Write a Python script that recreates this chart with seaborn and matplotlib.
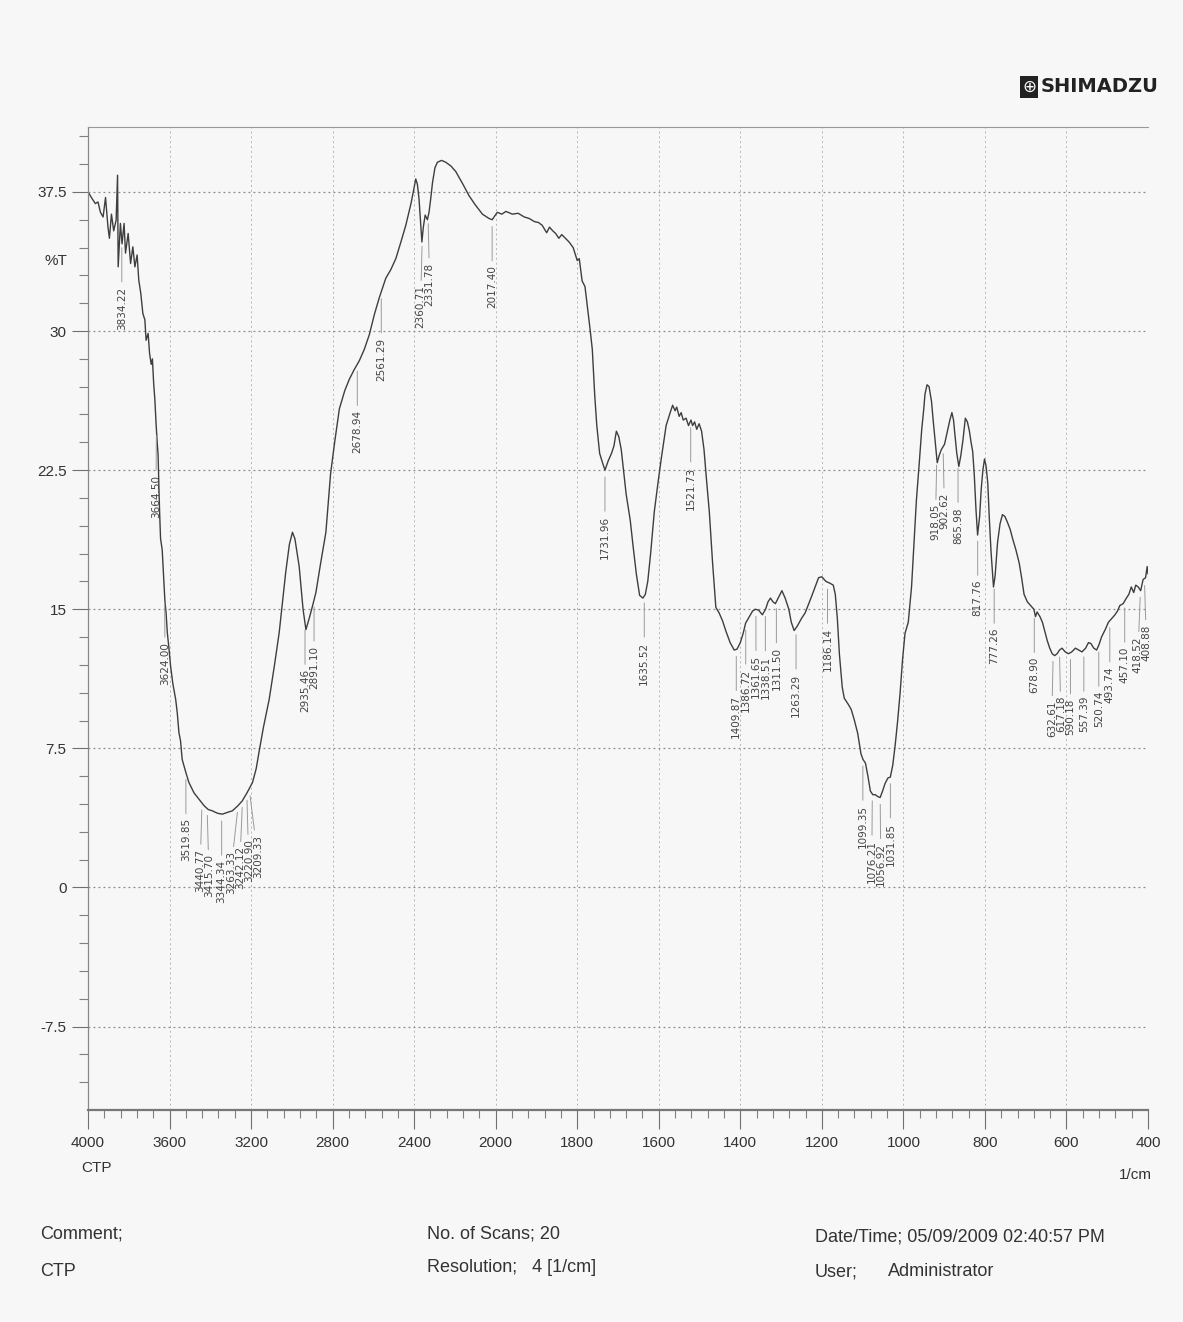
import numpy as np
import pandas as pd
import matplotlib
matplotlib.use('Agg')
import matplotlib.pyplot as plt
import matplotlib.transforms as mtransforms
import seaborn as sns
from matplotlib import font_manager
from matplotlib.ticker import FixedLocator, FixedFormatter

# IR spectrum (CTP)
wavenumber = [
    4000, 3980, 3964, 3951, 3939, 3926, 3914, 3902, 3895, 3885, 3874, 3862, 3855, 3852,
    3841, 3833, 3823, 3816, 3803, 3791, 3780, 3770, 3759, 3751, 3741, 3731, 3721, 3715,
    3705, 3698, 3690, 3684, 3678, 3672, 3666, 3660, 3656, 3652, 3648, 3644, 3636, 3630,
    3623, 3617, 3611, 3603, 3595, 3584, 3570, 3562, 3554, 3546, 3538, 3520, 3505, 3480,
    3456, 3430, 3410, 3390, 3365, 3341, 3315, 3292, 3265, 3243, 3220, 3193, 3175, 3161,
    3140, 3111, 3085, 3062, 3045, 3030, 3012, 2997, 2985, 2964, 2945, 2931, 2915, 2898,
    2882, 2860, 2833, 2810, 2790, 2767, 2740, 2718, 2695, 2669, 2645, 2620, 2595, 2571,
    2539, 2515, 2490, 2465, 2441, 2415, 2392, 2384, 2376, 2368, 2362, 2355, 2346, 2335,
    2327, 2318, 2310, 2298, 2286, 2265, 2245, 2220, 2196, 2160, 2131, 2100, 2065, 2033,
    2017, 2005, 1996, 1985, 1975, 1959, 1945, 1930, 1918, 1905, 1895, 1886, 1875, 1868,
    1860, 1853, 1845, 1838, 1829, 1820, 1810, 1800, 1795, 1788, 1781, 1775, 1768, 1763,
    1757, 1752, 1745, 1738, 1732, 1724, 1716, 1710, 1704, 1698, 1692, 1680, 1670, 1663,
    1655, 1647, 1639, 1633, 1627, 1620, 1611, 1602, 1594, 1582, 1572, 1566, 1560, 1556,
    1550, 1545, 1540, 1533, 1527, 1521, 1517, 1512, 1507, 1501, 1495, 1489, 1483, 1476,
    1468, 1460, 1452, 1444, 1435, 1425, 1415, 1408, 1400, 1393, 1387, 1378, 1370, 1363,
    1355, 1346, 1338, 1332, 1326, 1320, 1314, 1305, 1298, 1290, 1281, 1275, 1268, 1260,
    1250, 1241, 1225, 1208, 1200, 1190, 1180, 1172, 1167, 1162, 1157, 1150, 1145, 1136,
    1128, 1120, 1112, 1104, 1099, 1093, 1087, 1081, 1075, 1069, 1063, 1057, 1051, 1045,
    1038, 1032, 1026, 1020, 1014, 1008, 1002, 996, 988, 980, 974, 968, 961, 955,
    950, 947, 942, 937, 931, 927, 923, 917, 912, 907, 899, 891, 886, 881,
    877, 874, 869, 864, 859, 854, 848, 843, 838, 834, 830, 826, 822, 818,
    813, 809, 805, 801, 797, 793, 789, 785, 779, 775, 769, 763, 757, 751,
    745, 738, 732, 724, 716, 710, 704, 696, 688, 680, 676, 672, 665, 659,
    653, 647, 641, 635, 629, 623, 617, 611, 603, 595, 587, 578, 570, 562,
    553, 546, 540, 533, 526, 520, 514, 505, 497, 489, 481, 475, 469, 461,
    453, 447, 441, 435, 430, 424, 418, 412, 406, 402, 400,
]
transmittance = [
    37.5, 37.14, 36.87, 36.96, 36.4, 36.15, 37.2, 35.6, 35.0, 36.3, 35.4, 35.98, 38.4, 33.46,
    35.8, 34.7, 35.8, 34.2, 35.26, 33.64, 34.54, 33.46, 34.1, 32.75, 32.03, 30.95, 30.6, 29.5,
    29.87, 28.8, 28.2, 28.5, 27.2, 26.3, 25.0, 23.9, 23.3, 21.5, 20.0, 18.8, 18.2, 17.0,
    15.5, 14.8, 13.75, 12.9, 11.95, 11.0, 10.15, 9.4, 8.35, 7.9, 6.9, 6.2, 5.66, 5.1,
    4.76, 4.4, 4.2, 4.13, 4.0, 3.95, 4.05, 4.13, 4.4, 4.67, 5.1, 5.66, 6.4, 7.3,
    8.6, 10.15, 12.0, 13.75, 15.5, 17.0, 18.5, 19.15, 18.8, 17.3, 15.0, 13.9, 14.5, 15.2,
    15.9, 17.4, 19.15, 22.3, 24.0, 25.8, 26.8, 27.4, 27.9, 28.4, 29.0, 29.8, 30.9, 31.8,
    32.85, 33.3, 33.9, 34.8, 35.7, 36.9, 38.2, 37.9, 37.1, 35.8, 34.8, 35.6, 36.25, 36.0,
    36.4, 37.2, 38.0, 38.8, 39.1, 39.2, 39.1, 38.9, 38.6, 37.9, 37.3, 36.8, 36.3, 36.07,
    36.0, 36.2, 36.4, 36.3, 36.45, 36.3, 36.35, 36.15, 36.07, 35.9, 35.85, 35.7, 35.3, 35.6,
    35.4, 35.26, 35.0, 35.2, 35.0, 34.8, 34.5, 33.8, 33.9, 32.7, 32.4, 31.3, 30.0, 29.0,
    26.5, 24.9, 23.4, 22.9, 22.5, 23.0, 23.4, 23.8, 24.6, 24.3, 23.6, 21.2, 19.8, 18.4,
    16.9, 15.75, 15.6, 15.8, 16.5, 18.0, 20.25, 21.8, 23.1, 24.9, 25.6, 26.0, 25.7, 25.9,
    25.4, 25.6, 25.2, 25.3, 24.9, 25.2, 24.9, 25.1, 24.7, 25.0, 24.6, 23.6, 22.0, 20.25,
    17.5, 15.1, 14.8, 14.4, 13.8, 13.2, 12.8, 12.85, 13.2, 13.7, 14.25, 14.6, 14.9, 15.0,
    14.95, 14.7, 15.0, 15.4, 15.6, 15.4, 15.3, 15.7, 16.0, 15.6, 15.0, 14.3, 13.85, 14.1,
    14.5, 14.8, 15.7, 16.7, 16.75, 16.5, 16.4, 16.3, 15.8, 14.5, 12.6, 10.8, 10.2, 9.9,
    9.6, 9.0, 8.3, 7.2, 6.9, 6.7, 6.0, 5.2, 5.0, 5.0, 4.9, 4.85, 5.2, 5.6,
    5.9, 5.95, 6.6, 7.7, 9.0, 10.5, 12.3, 13.7, 14.3, 16.2, 18.5, 20.9, 22.9, 24.7,
    25.8, 26.6, 27.1, 27.0, 26.2, 25.2, 24.3, 22.9, 23.3, 23.6, 23.9, 24.7, 25.2, 25.6,
    25.2, 24.5, 23.4, 22.7, 23.3, 24.1, 25.3, 25.1, 24.6, 24.0, 23.5, 22.2, 20.4, 19.0,
    20.0, 21.5, 22.5, 23.1, 22.7, 21.8, 19.8, 18.1, 16.2, 16.8, 18.6, 19.6, 20.1, 20.0,
    19.7, 19.3, 18.8, 18.2, 17.5, 16.7, 15.8, 15.4, 15.2, 15.0, 14.6, 14.85, 14.6, 14.3,
    13.8, 13.3, 12.9, 12.6, 12.5, 12.6, 12.8, 12.9, 12.7, 12.6, 12.7, 12.9, 12.8, 12.7,
    12.9, 13.2, 13.15, 12.9, 12.8, 13.1, 13.5, 13.9, 14.3, 14.5, 14.7, 14.9, 15.2, 15.3,
    15.6, 15.8, 16.2, 15.9, 16.3, 16.2, 16.0, 16.6, 16.7, 17.3, 16.9,
]

peak_labels = [
    '3834.22', '3664.50', '3624.00', '3519.85', '3440.77', '3415.70', '3344.34',
    '3263.33', '3242.12', '3220.90', '3209.33', '2935.46', '2891.10', '2678.94',
    '2561.29', '2360.71', '2331.78', '2017.40', '1731.96', '1635.52', '1521.73',
    '1409.87', '1386.72', '1361.65', '1338.51', '1311.50', '1263.29', '1186.14',
    '1099.35', '1076.21', '1056.92', '1031.85', '918.05', '902.62', '865.98',
    '817.76', '777.26', '678.90', '632.61', '617.18', '590.18', '557.39',
    '520.74', '493.74', '457.10', '418.52', '408.88',
]

x_ticks = [4000, 3600, 3200, 2800, 2400, 2000, 1800, 1600, 1400, 1200, 1000, 800, 600, 400]
y_ticks = [-7.5, 0, 7.5, 15, 22.5, 30, 37.5]
y_tick_labels = ['-7.5', '0', '7.5', '15', '22.5', '30', '37.5']

sns.set_theme(style='white')
names = {f.name for f in font_manager.fontManager.ttflist}
narrow = next(n for n in ['Liberation Sans Narrow', 'Liberation Sans', 'DejaVu Sans'] if n in names)
plt.rcParams['font.family'] = [narrow, 'DejaVu Sans']

bg = '#f7f7f8'
ink = '#3e3e3e'
W, H = 1183, 1322

fig = plt.figure(figsize=(W / 100, H / 100), dpi=100, facecolor=bg)
ax = fig.add_axes([88 / W, 1 - 1110 / H, 1060 / W, 983 / H], facecolor=bg)


# Shimadzu prints with half the scale above 2000 1/cm
def fwd(x):
    x = np.asarray(x, dtype=float)
    return np.where(x > 2000, 2000 + (x - 2000) / 2, x)


def inv(x):
    x = np.asarray(x, dtype=float)
    return np.where(x > 2000, 2000 + (x - 2000) * 2, x)


ax.set_xscale('function', functions=(fwd, inv))

df = pd.DataFrame({'wn': wavenumber, 'T': transmittance})
sns.lineplot(data=df, x='wn', y='T', ax=ax, color=ink, lw=1.0,
             sort=False, estimator=None)
ax.set_xlim(4000, 400)
ax.set_ylim(-12, 41)
ax.set_xlabel('')
ax.set_ylabel('')

# ticks
minor_x = [v for v in list(range(3920, 2000, -80)) + list(range(1960, 400, -40)) if v not in x_ticks]
ax.xaxis.set_major_locator(FixedLocator(x_ticks))
ax.xaxis.set_major_formatter(FixedFormatter([str(v) for v in x_ticks]))
ax.xaxis.set_minor_locator(FixedLocator(minor_x))
ax.yaxis.set_major_locator(FixedLocator(y_ticks))
ax.yaxis.set_major_formatter(FixedFormatter(y_tick_labels))
ax.yaxis.set_minor_locator(FixedLocator([v for v in np.arange(-10.5, 41, 1.5) if v not in y_ticks]))

ax.tick_params(axis='y', which='major', left=True, direction='out', length=11.5, width=0.8,
               color='#707070', pad=4, labelsize=11, labelcolor='#333333')
ax.tick_params(axis='y', which='minor', left=True, direction='out', length=6.5, width=0.8,
               color='#808080')
ax.tick_params(axis='x', which='major', bottom=True, direction='out', length=14, width=0.8,
               color='#707070', pad=5, labelsize=11, labelcolor='#333333')
ax.tick_params(axis='x', which='minor', bottom=True, direction='out', length=6, width=0.8,
               color='#808080')

ax.yaxis.grid(True, which='major', linestyle=(0, (1.5, 2.5)), color='#8a8a8a', lw=0.9)
ax.xaxis.grid(True, which='major', linestyle=(0, (2, 3)), color='#b5b5b5', lw=0.7)
ax.set_axisbelow(True)

ax.spines['right'].set_visible(False)
ax.spines['left'].set_color('#888888')
ax.spines['left'].set_linewidth(0.9)
ax.spines['top'].set_color('#999999')
ax.spines['top'].set_linewidth(0.8)
ax.spines['bottom'].set_color('#777777')
ax.spines['bottom'].set_linewidth(1.6)

ax.text(-0.019, 33.75, '%T', transform=mtransforms.blended_transform_factory(ax.transAxes, ax.transData),
        ha='right', va='center', fontsize=11, color='#333333')

# peak labels: spread crowded ones apart horizontally
wn_asc = np.array(wavenumber[::-1], dtype=float)
t_asc = np.array(transmittance[::-1], dtype=float)
peak_wn = [float(s) for s in peak_labels]
px = np.array([ax.transData.transform((w, 0))[0] for w in peak_wn])
pos = px.copy()
min_gap = 9.0
for _ in range(300):
    for i in range(len(pos) - 1):
        d = pos[i + 1] - pos[i]
        if d < min_gap:
            shift = (min_gap - d) / 2
            pos[i] -= shift
            pos[i + 1] += shift
pos = np.minimum(pos, px[-1] + 2)

for lab, w, p0, p1 in zip(peak_labels, peak_wn, px, pos):
    yv = np.interp(w, wn_asc, t_asc)
    dx = (p1 - p0) * 72 / fig.dpi
    ax.annotate(lab, xy=(w, yv), xytext=(dx, -33), textcoords='offset points',
                rotation=90, ha='center', va='top', fontsize=7.5, color='#444444',
                family=['DejaVu Sans'],
                arrowprops=dict(arrowstyle='-', color='#9a9a9a', lw=0.7,
                                shrinkA=1, shrinkB=5))

# axis end captions
fig.text(97 / W, 1 - 1168 / H, 'CTP', ha='center', va='center', fontsize=11, color='#333333')
fig.text(1135 / W, 1 - 1175 / H, '1/cm', ha='center', va='center', fontsize=11, color='#333333')

# footer
foot = dict(ha='left', va='center', fontsize=13, color='#333333')
fig.text(40 / W, 1 - 1234 / H, 'Comment;', **foot)
fig.text(40 / W, 1 - 1272 / H, 'CTP', **foot)
fig.text(427 / W, 1 - 1234 / H, 'No. of Scans; 20', **foot)
fig.text(427 / W, 1 - 1268 / H, 'Resolution;   4 [1/cm]', **foot)
fig.text(815 / W, 1 - 1237 / H, 'Date/Time; 05/09/2009 02:40:57 PM', **foot)
fig.text(815 / W, 1 - 1272 / H, 'User;', **foot)
fig.text(888 / W, 1 - 1272 / H, 'Administrator', **foot)

# logo
fig.text(1029 / W, 1 - 87 / H, '\u2295', ha='center', va='center', fontsize=12, color='white',
         family=['DejaVu Sans'], bbox=dict(boxstyle='square,pad=0.12', fc='#222222', ec='none'))
fig.text(1041 / W, 1 - 87 / H, 'SHIMADZU', ha='left', va='center', fontsize=14,
         fontweight='bold', color='#222222', family=['DejaVu Sans'])

fig.savefig('out.png', dpi=100, facecolor=bg)
